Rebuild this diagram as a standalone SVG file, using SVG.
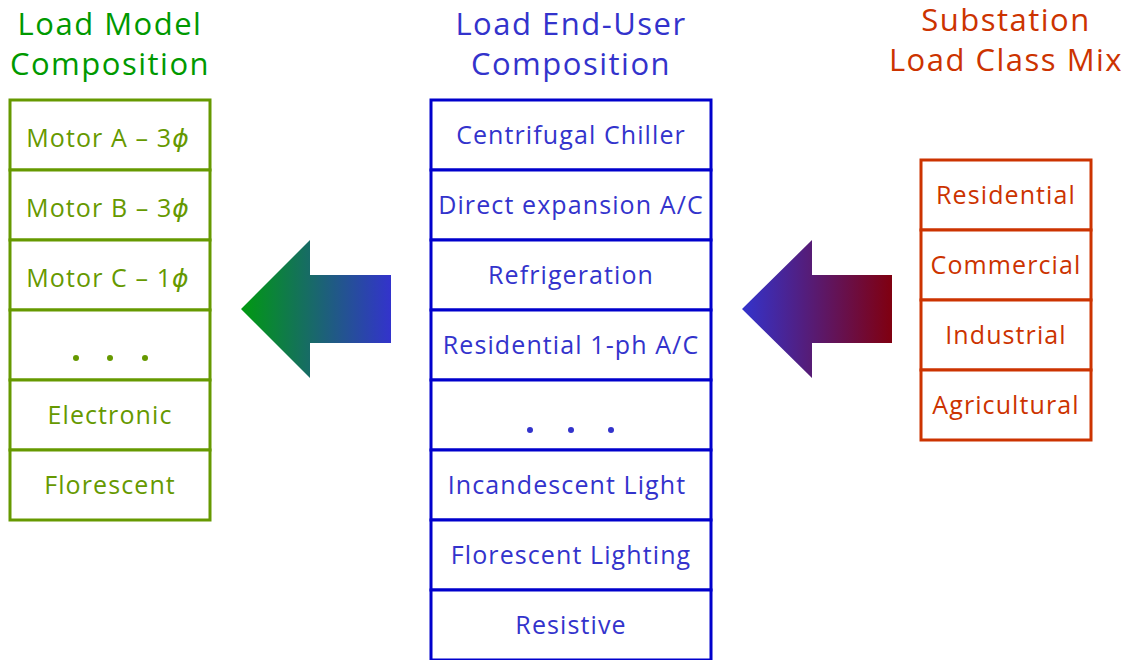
<svg xmlns="http://www.w3.org/2000/svg" width="1128" height="660" viewBox="0 0 1128 660">
<style>
text{font-family:"Open Sans","DejaVu Sans",sans-serif;text-anchor:middle;dominant-baseline:central}
.title{font-size:31px;letter-spacing:1.5px}
.cell{font-size:25px;letter-spacing:1.1px}
.g rect{fill:#fff;stroke:#669900;stroke-width:3}
.g text{fill:#669900}
.b rect{fill:#fff;stroke:#0000cc;stroke-width:3}
.b text{fill:#3333cc}
.r rect{fill:#fff;stroke:#cc3300;stroke-width:3}
.r text{fill:#cc3300}
</style>
<defs>
<linearGradient id="gl" x1="0" y1="0" x2="1" y2="0">
<stop offset="0" stop-color="#009a10"/><stop offset="1" stop-color="#3333cc"/>
</linearGradient>
<linearGradient id="gr" x1="0" y1="0" x2="1" y2="0">
<stop offset="0" stop-color="#3333cc"/><stop offset="1" stop-color="#800010"/>
</linearGradient>
</defs>
<g id="title-left"><text class="title" x="110" y="23" fill="#009900">Load Model</text><text class="title" x="110" y="63" fill="#009900">Composition</text></g>
<g id="title-mid"><text class="title" x="571" y="23" fill="#3333cc">Load End-User</text><text class="title" x="571" y="63" fill="#3333cc">Composition</text></g>
<g id="title-right"><text class="title" x="1006" y="19" fill="#cc3300">Substation</text><text class="title" x="1006" y="59" fill="#cc3300">Load Class Mix</text></g>
<g id="left" class="g">
<g id="l1"><rect x="10" y="100" width="200" height="70"/><text class="cell" x="108" y="137">Motor A – 3<tspan font-style="italic">ϕ</tspan></text></g>
<g id="l2"><rect x="10" y="170" width="200" height="70"/><text class="cell" x="108" y="207">Motor B – 3<tspan font-style="italic">ϕ</tspan></text></g>
<g id="l3"><rect x="10" y="240" width="200" height="70"/><text class="cell" x="108" y="277">Motor C – 1<tspan font-style="italic">ϕ</tspan></text></g>
<g id="l4"><rect x="10" y="310" width="200" height="70"/><circle cx="76" cy="358" r="3" fill="#669900"/><circle cx="110" cy="358" r="3" fill="#669900"/><circle cx="145" cy="358" r="3" fill="#669900"/></g>
<g id="l5"><rect x="10" y="380" width="200" height="70"/><text class="cell" x="110" y="414">Electronic</text></g>
<g id="l6"><rect x="10" y="450" width="200" height="70"/><text class="cell" x="110" y="484">Florescent</text></g>
</g>
<g id="mid" class="b">
<g id="m1"><rect x="431" y="100" width="280" height="70"/><text class="cell" x="571" y="134">Centrifugal Chiller</text></g>
<g id="m2"><rect x="431" y="170" width="280" height="70"/><text class="cell" x="571" y="204">Direct expansion A/C</text></g>
<g id="m3"><rect x="431" y="240" width="280" height="70"/><text class="cell" x="571" y="274">Refrigeration</text></g>
<g id="m4"><rect x="431" y="310" width="280" height="70"/><text class="cell" x="571" y="344">Residential 1-ph A/C</text></g>
<g id="m5"><rect x="431" y="380" width="280" height="70"/><circle cx="530" cy="430" r="3" fill="#3333cc"/><circle cx="571" cy="430" r="3" fill="#3333cc"/><circle cx="611" cy="430" r="3" fill="#3333cc"/></g>
<g id="m6"><rect x="431" y="450" width="280" height="70"/><text class="cell" x="567" y="484">Incandescent Light</text></g>
<g id="m7"><rect x="431" y="520" width="280" height="70"/><text class="cell" x="571" y="554">Florescent Lighting</text></g>
<g id="m8"><rect x="431" y="590" width="280" height="70"/><text class="cell" x="571" y="624">Resistive</text></g>
</g>
<g id="right" class="r">
<g id="r1"><rect x="921" y="160" width="170" height="70"/><text class="cell" x="1006" y="194">Residential</text></g>
<g id="r2"><rect x="921" y="230" width="170" height="70"/><text class="cell" x="1006" y="264">Commercial</text></g>
<g id="r3"><rect x="921" y="300" width="170" height="70"/><text class="cell" x="1006" y="334">Industrial</text></g>
<g id="r4"><rect x="921" y="370" width="170" height="70"/><text class="cell" x="1006" y="404">Agricultural</text></g>
</g>
<g id="connectors">
<polygon points="241,309 310,240 310,275 391,275 391,343 310,343 310,378" fill="url(#gl)"/>
<polygon points="742,309 812,240 812,275 892,275 892,343 812,343 812,378" fill="url(#gr)"/>
</g>
</svg>
